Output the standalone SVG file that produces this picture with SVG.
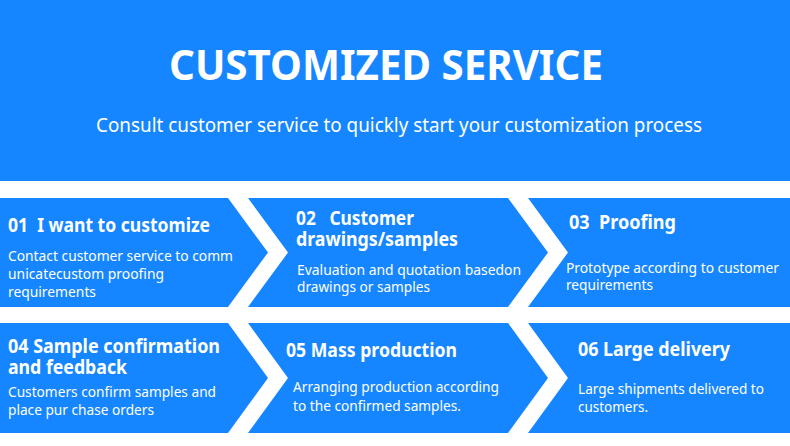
<svg xmlns="http://www.w3.org/2000/svg" width="790" height="446" viewBox="0 0 790 446">
<style>
.bg{fill:#1586ff}
text{fill:#ffffff;font-family:"Noto Sans","Open Sans","Liberation Sans",sans-serif}
.h1{font-size:42px;font-weight:700}
.sub{font-size:20px;font-weight:400}
.t{font-size:19px;font-weight:700}
.d{font-size:15px;font-weight:400}
</style>
<rect x="0" y="0" width="790" height="446" fill="#ffffff"/>
<g id="header">
<rect class="bg" x="0" y="0" width="790" height="181"/>
<text class="h1" x="169" y="80" textLength="434" lengthAdjust="spacingAndGlyphs">CUSTOMIZED SERVICE</text>
<text class="sub" x="96" y="132" textLength="606" lengthAdjust="spacingAndGlyphs">Consult customer service to quickly start your customization process</text>
</g>
<g id="connectors"></g>
<g id="step01">
<polygon class="bg" points="0,198 228,198 268,252.5 228,307 0,307"/>
<text class="t" x="8" y="232" textLength="202" lengthAdjust="spacingAndGlyphs">01&#160; I want to customize</text>
<text class="d" x="8" y="261" textLength="225" lengthAdjust="spacingAndGlyphs">Contact customer service to comm</text>
<text class="d" x="8" y="279" textLength="156" lengthAdjust="spacingAndGlyphs">unicatecustom proofing</text>
<text class="d" x="8" y="297" textLength="88" lengthAdjust="spacingAndGlyphs">requirements</text>
</g>
<g id="step02">
<polygon class="bg" points="248,198 508,198 548,252.5 508,307 248,307 288,252.5"/>
<text class="t" x="296" y="225" textLength="118" lengthAdjust="spacingAndGlyphs">02&#160;&#160; Customer</text>
<text class="t" x="296" y="246" textLength="162" lengthAdjust="spacingAndGlyphs">drawings/samples</text>
<text class="d" x="297" y="275" textLength="224" lengthAdjust="spacingAndGlyphs">Evaluation and quotation basedon</text>
<text class="d" x="297" y="292" textLength="133" lengthAdjust="spacingAndGlyphs">drawings or samples</text>
</g>
<g id="step03">
<polygon class="bg" points="528,198 790,198 790,307 528,307 568,252.5"/>
<text class="t" x="569" y="229" textLength="107" lengthAdjust="spacingAndGlyphs">03&#160; Proofing</text>
<text class="d" x="566" y="273" textLength="213" lengthAdjust="spacingAndGlyphs">Prototype according to customer</text>
<text class="d" x="566" y="290" textLength="87" lengthAdjust="spacingAndGlyphs">requirements</text>
</g>
<g id="step04">
<polygon class="bg" points="0,323 228,323 268,378 228,433 0,433"/>
<text class="t" x="8" y="353" textLength="212" lengthAdjust="spacingAndGlyphs">04 Sample confirmation</text>
<text class="t" x="8" y="374" textLength="119" lengthAdjust="spacingAndGlyphs">and feedback</text>
<text class="d" x="8" y="397" textLength="208" lengthAdjust="spacingAndGlyphs">Customers confirm samples and</text>
<text class="d" x="8" y="415" textLength="146" lengthAdjust="spacingAndGlyphs">place pur chase orders</text>
</g>
<g id="step05">
<polygon class="bg" points="248,323 508,323 548,378 508,433 248,433 288,378"/>
<text class="t" x="286" y="357" textLength="171" lengthAdjust="spacingAndGlyphs">05 Mass production</text>
<text class="d" x="293" y="392" textLength="206" lengthAdjust="spacingAndGlyphs">Arranging production according</text>
<text class="d" x="293" y="411" textLength="168" lengthAdjust="spacingAndGlyphs">to the confirmed samples.</text>
</g>
<g id="step06">
<polygon class="bg" points="528,323 790,323 790,433 528,433 568,378"/>
<text class="t" x="578" y="356" textLength="152" lengthAdjust="spacingAndGlyphs">06 Large delivery</text>
<text class="d" x="578" y="394" textLength="186" lengthAdjust="spacingAndGlyphs">Large shipments delivered to</text>
<text class="d" x="578" y="412" textLength="70" lengthAdjust="spacingAndGlyphs">customers.</text>
</g>
</svg>
